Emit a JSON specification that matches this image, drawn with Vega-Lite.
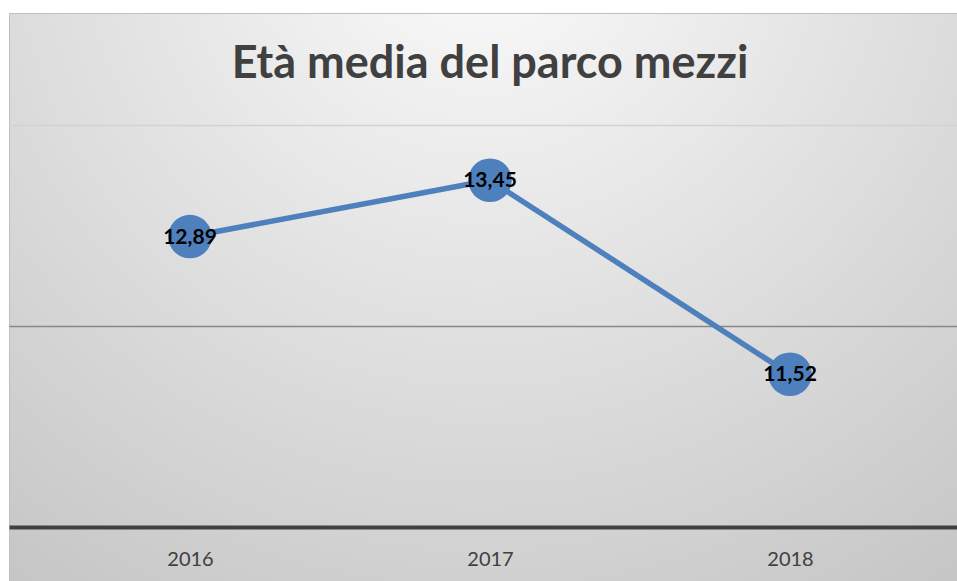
{
  "$schema": "https://vega.github.io/schema/vega-lite/v6.json",
  "autosize": {"type": "none"},
  "padding": {"left": 9, "top": 13, "right": 0, "bottom": 0},
  "width": 948,
  "height": 568,
  "background": "#ffffff",
  "config": {
    "view": {
      "stroke": "#bfbfbf",
      "strokeWidth": 1,
      "fill": {
        "gradient": "radial",
        "x1": 0.5, "y1": 0.1, "r1": 0,
        "x2": 0.5, "y2": 0.1, "r2": 0.85,
        "stops": [
          {"offset": 0, "color": "#fcfcfc"},
          {"offset": 1, "color": "#c6c6c6"}
        ]
      }
    }
  },
  "title": {
    "text": "Età media del parco mezzi",
    "orient": "top",
    "anchor": "middle",
    "frame": "group",
    "offset": -110,
    "dx": 7,
    "baseline": "alphabetic",
    "font": "Lato",
    "fontSize": 45,
    "fontWeight": "bold",
    "color": "#404040"
  },
  "data": {
    "values": [
      {"year": 2016, "value": 12.89, "label": "12,89"},
      {"year": 2017, "value": 13.45, "label": "13,45"},
      {"year": 2018, "value": 11.52, "label": "11,52"}
    ]
  },
  "layer": [
    {
      "mark": {"type": "line", "color": "#4e80bd", "strokeWidth": 5.5},
      "encoding": {
        "x": {
          "field": "year",
          "type": "quantitative",
          "scale": {"domain": [2015.3967, 2018.5567], "nice": false, "zero": false},
          "axis": {
            "values": [2016, 2017, 2018],
            "format": "d",
            "title": null,
            "domain": false,
            "ticks": false,
            "grid": false,
            "offset": -54,
            "labelPadding": 22,
            "labelFont": "Lato",
            "labelFontSize": 20,
            "labelColor": "#404040"
          }
        },
        "y": {
          "field": "value",
          "type": "quantitative",
          "scale": {"domain": [9.463, 15.114], "nice": false, "zero": false},
          "axis": {
            "values": [10, 12, 14],
            "title": null,
            "domain": false,
            "ticks": false,
            "labels": false,
            "grid": true,
            "gridColor": {"condition": [{"test": "datum.value === 10", "value": "#404040"}, {"test": "datum.value === 12", "value": "#878787"}], "value": "#d2d2d2"},
            "gridWidth": {"condition": {"test": "datum.value === 10", "value": 4}, "value": 1.5}
          }
        }
      }
    },
    {
      "mark": {"type": "point", "shape": "circle", "filled": true, "size": 1900, "color": "#4e80bd", "opacity": 1},
      "encoding": {
        "x": {"field": "year", "type": "quantitative"},
        "y": {"field": "value", "type": "quantitative"}
      }
    },
    {
      "mark": {"type": "text", "font": "Lato", "fontSize": 21, "fontWeight": "bold", "color": "#000000", "align": "center", "baseline": "middle", "dy": 1},
      "encoding": {
        "x": {"field": "year", "type": "quantitative"},
        "y": {"field": "value", "type": "quantitative"},
        "text": {"field": "label", "type": "nominal"}
      }
    }
  ]
}
